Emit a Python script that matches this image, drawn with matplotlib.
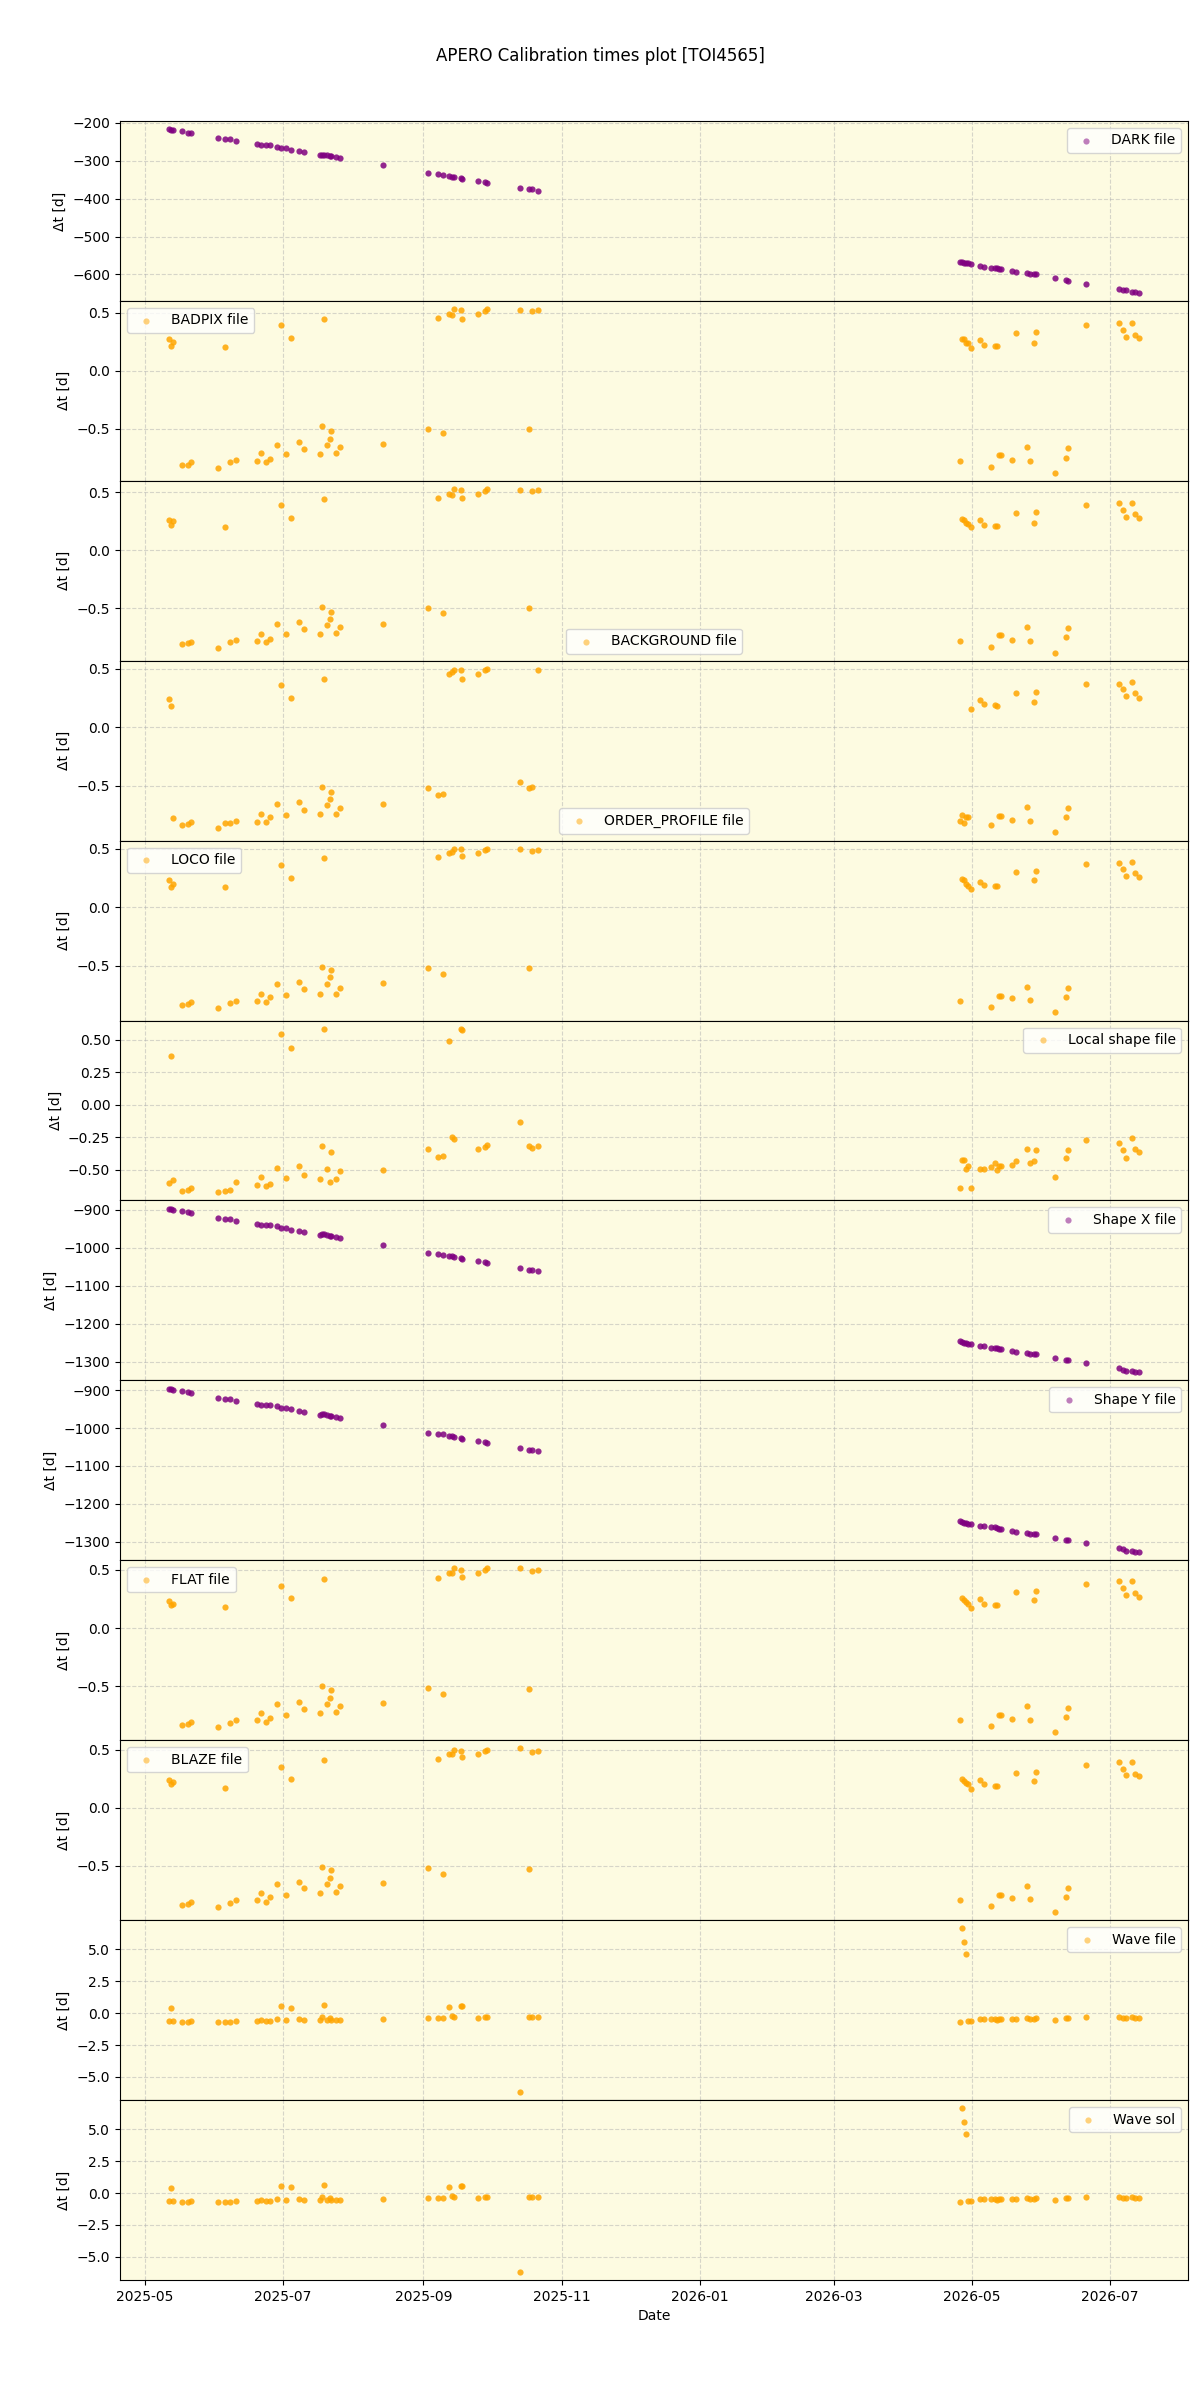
import matplotlib
matplotlib.use("Agg")
import matplotlib.pyplot as plt
import matplotlib.dates as mdates
import pandas as pd

# ---------------- data ----------------
dates_str = [
    '2025-05-11 12:00', '2025-05-12 12:00', '2025-05-13 10:00', '2025-05-17 10:00', '2025-05-20 07:00', '2025-05-21 07:00',
    '2025-06-02 07:00', '2025-06-05 10:00', '2025-06-07 10:00', '2025-06-10 07:00',
    '2025-06-19 10:00', '2025-06-21 07:00', '2025-06-23 07:00', '2025-06-25 05:00',
    '2025-06-28 10:00', '2025-06-30 07:00', '2025-07-02 07:00', '2025-07-04 17:00',
    '2025-07-08 05:00', '2025-07-10 10:00',
    '2025-07-17 12:00', '2025-07-18 10:00', '2025-07-19 05:00', '2025-07-20 14:00', '2025-07-21 14:00',
    '2025-07-22 07:00', '2025-07-24 12:00', '2025-07-26 05:00',
    '2025-08-14 07:00',
    '2025-09-03 02:00', '2025-09-07 05:00', '2025-09-09 10:00', '2025-09-12 10:00', '2025-09-13 10:00',
    '2025-09-14 12:00', '2025-09-17 12:00', '2025-09-18 05:00',
    '2025-09-25 02:00', '2025-09-28 00:00', '2025-09-29 00:00',
    '2025-10-13 10:00', '2025-10-17 12:00', '2025-10-19 00:00', '2025-10-21 10:00',
    '2026-04-25 14:00', '2026-04-26 14:00', '2026-04-27 10:00', '2026-04-28 12:00', '2026-04-29 12:00', '2026-04-30 12:00',
    '2026-05-04 10:00', '2026-05-06 05:00', '2026-05-09 12:00', '2026-05-11 07:00', '2026-05-12 07:00',
    '2026-05-13 00:00', '2026-05-13 17:00',
    '2026-05-18 19:00', '2026-05-20 12:00', '2026-05-25 10:00', '2026-05-26 17:00', '2026-05-28 07:00', '2026-05-29 10:00',
    '2026-06-06 22:00', '2026-06-11 12:00', '2026-06-12 07:00', '2026-06-20 14:00',
    '2026-07-05 00:00', '2026-07-06 17:00', '2026-07-08 02:00', '2026-07-10 19:00', '2026-07-12 02:00', '2026-07-14 00:00',
]

dark = [-217, -218, -219, -221, -226, -226, -240, -243, -242, -248, -255, -258, -260, -260,
        -263, -266, -268, -271, -274, -277, -284, -284, -285, -286, -288, -289, -290, -293,
        -311, -332, -334, -338, -340, -342, -343, -346, -348, -353, -355, -358, -372, -376, -376, -379,
        -567, -568, -569, -570, -571, -572, -577, -579, -583, -583, -584, -585, -586,
        -590, -593, -597, -598, -599, -600, -609, -615, -617, -625, -637, -640, -642, -645, -646, -648]

badpix = [0.27, 0.21, 0.25, -0.81, -0.81, -0.79, -0.84, 0.20, -0.79, -0.77, -0.78, -0.71, -0.79, -0.76,
          -0.64, 0.39, -0.72, 0.28, -0.62, -0.68, -0.72, -0.48, 0.44, -0.64, -0.59, -0.52, -0.71, -0.66,
          -0.63, -0.50, 0.45, -0.54, 0.49, 0.48, 0.53, 0.52, 0.44, 0.49, 0.51, 0.53, 0.52, -0.50, 0.51, 0.52,
          -0.78, 0.27, 0.27, 0.24, 0.24, 0.19, 0.26, 0.22, -0.83, 0.21, 0.21, -0.73, -0.73,
          -0.77, 0.32, -0.66, -0.78, 0.24, 0.33, -0.88, -0.75, -0.67, 0.39, 0.41, 0.35, 0.29, 0.41, 0.31, 0.28]

background = [0.26, 0.22, 0.25, -0.81, -0.80, -0.79, -0.84, 0.20, -0.79, -0.77, -0.78, -0.72, -0.79, -0.76,
              -0.63, 0.39, -0.72, 0.28, -0.62, -0.68, -0.72, -0.49, 0.44, -0.64, -0.59, -0.53, -0.71, -0.66,
              -0.63, -0.50, 0.45, -0.54, 0.49, 0.48, 0.53, 0.52, 0.45, 0.49, 0.51, 0.53, 0.52, -0.50, 0.51, 0.52,
              -0.78, 0.27, 0.26, 0.24, 0.23, 0.20, 0.26, 0.22, -0.83, 0.21, 0.21, -0.73, -0.73,
              -0.77, 0.32, -0.66, -0.78, 0.24, 0.33, -0.88, -0.75, -0.67, 0.39, 0.41, 0.35, 0.29, 0.41, 0.31, 0.28]

order_profile = [0.24, 0.18, -0.78, -0.84, -0.83, -0.81, -0.865, -0.82, -0.82, -0.80, -0.81, -0.74, -0.81, -0.77,
                 -0.66, 0.36, -0.75, 0.25, -0.64, -0.71, -0.74, -0.51, 0.41, -0.665, -0.61, -0.55, -0.74, -0.69,
                 -0.66, -0.52, -0.58, -0.57, 0.455, 0.47, 0.49, 0.49, 0.415, 0.46, 0.49, 0.50, -0.47, -0.52, -0.515, 0.49,
                 -0.80, -0.75, -0.82, -0.77, -0.77, 0.16, 0.23, 0.20, -0.84, 0.19, 0.18, -0.76, -0.76,
                 -0.79, 0.29, -0.68, -0.80, 0.22, 0.30, -0.90, -0.77, -0.69, 0.37, 0.375, 0.325, 0.265, 0.385, 0.29, 0.25]

loco = [0.23, 0.17, 0.20, -0.84, -0.83, -0.81, -0.86, 0.17, -0.82, -0.80, -0.80, -0.74, -0.81, -0.77,
        -0.66, 0.36, -0.75, 0.25, -0.64, -0.70, -0.74, -0.51, 0.42, -0.66, -0.60, -0.54, -0.74, -0.69,
        -0.65, -0.52, 0.43, -0.57, 0.46, 0.47, 0.50, 0.50, 0.44, 0.46, 0.49, 0.50, 0.50, -0.52, 0.48, 0.49,
        -0.80, 0.24, 0.23, 0.20, 0.18, 0.16, 0.22, 0.19, -0.85, 0.18, 0.18, -0.76, -0.76,
        -0.78, 0.30, -0.68, -0.79, 0.23, 0.31, -0.90, -0.77, -0.69, 0.37, 0.38, 0.33, 0.27, 0.39, 0.29, 0.26]

local_shape = [-0.604, 0.37, -0.583, -0.661, -0.659, -0.638, -0.674, -0.664, -0.659, -0.596, -0.617, -0.555, -0.622, -0.607,
               -0.49, 0.539, -0.565, 0.435, -0.469, -0.539, -0.568, -0.32, 0.583, -0.492, -0.594, -0.367, -0.57, -0.51,
               -0.5, -0.344, -0.406, -0.393, 0.487, -0.247, -0.268, 0.578, 0.57, -0.339, -0.323, -0.313, -0.135, -0.32, -0.336, -0.32,
               -0.643, -0.427, -0.427, -0.495, -0.474, -0.643, -0.495, -0.495, -0.482, -0.448, -0.505, -0.471, -0.471,
               -0.461, -0.432, -0.339, -0.448, -0.432, -0.346, -0.557, -0.411, -0.352, -0.273, -0.297, -0.352, -0.414, -0.26, -0.341, -0.362]

shape_x = [-897, -899, -900, -903, -907, -908, -921, -924, -924, -929, -937, -939, -941, -941,
           -944, -947, -949, -952, -955, -958, -966, -965, -965, -967, -968, -969, -971, -974,
           -992, -1013, -1016, -1018, -1021, -1023, -1024, -1026, -1029, -1034, -1037, -1040, -1053, -1058, -1058, -1061,
           -1247, -1249, -1250, -1252, -1253, -1253, -1258, -1260, -1263, -1263, -1265, -1266, -1267,
           -1271, -1274, -1278, -1279, -1280, -1281, -1290, -1295, -1297, -1305, -1318, -1321, -1324, -1326, -1327, -1328]

shape_y = [-896, -898, -899, -902, -906, -907, -920, -923, -923, -928, -936, -938, -940, -940,
           -943, -946, -948, -951, -954, -957, -965, -964, -964, -966, -967, -968, -970, -973,
           -991, -1012, -1015, -1017, -1020, -1022, -1023, -1025, -1028, -1033, -1036, -1039, -1052, -1057, -1057, -1060,
           -1246, -1248, -1249, -1251, -1252, -1252, -1257, -1259, -1262, -1262, -1264, -1265, -1266,
           -1270, -1273, -1277, -1278, -1279, -1280, -1289, -1294, -1296, -1304, -1317, -1320, -1323, -1325, -1326, -1327]

flat = [0.23, 0.20, 0.21, -0.83, -0.82, -0.80, -0.85, 0.18, -0.81, -0.79, -0.79, -0.73, -0.80, -0.77,
        -0.65, 0.36, -0.74, 0.26, -0.63, -0.69, -0.73, -0.50, 0.42, -0.65, -0.60, -0.53, -0.72, -0.67,
        -0.64, -0.51, 0.43, -0.56, 0.47, 0.47, 0.51, 0.50, 0.44, 0.47, 0.50, 0.51, 0.51, -0.52, 0.49, 0.50,
        -0.79, 0.26, 0.24, 0.22, 0.21, 0.17, 0.25, 0.21, -0.84, 0.20, 0.20, -0.74, -0.74,
        -0.78, 0.31, -0.67, -0.79, 0.24, 0.32, -0.89, -0.76, -0.68, 0.38, 0.40, 0.34, 0.28, 0.40, 0.30, 0.27]

blaze = [0.24, 0.20, 0.22, -0.84, -0.83, -0.81, -0.86, 0.17, -0.82, -0.80, -0.80, -0.74, -0.81, -0.77,
         -0.66, 0.35, -0.75, 0.25, -0.64, -0.69, -0.74, -0.51, 0.41, -0.66, -0.61, -0.54, -0.73, -0.68,
         -0.65, -0.52, 0.42, -0.57, 0.46, 0.46, 0.50, 0.49, 0.44, 0.46, 0.49, 0.50, 0.51, -0.53, 0.48, 0.49,
         -0.80, 0.25, 0.23, 0.21, 0.20, 0.16, 0.24, 0.20, -0.85, 0.19, 0.19, -0.75, -0.75,
         -0.78, 0.30, -0.68, -0.79, 0.23, 0.31, -0.90, -0.77, -0.69, 0.37, 0.39, 0.33, 0.28, 0.39, 0.29, 0.27]

wave_file = [-0.625, 0.39, -0.625, -0.7, -0.7, -0.6, -0.7, -0.7, -0.7, -0.6, -0.6, -0.52, -0.6, -0.6,
             -0.44, 0.55, -0.57, 0.44, -0.44, -0.52, -0.57, -0.31, 0.6, -0.55, -0.36, -0.52, -0.52, -0.52,
             -0.49, -0.36, -0.36, -0.36, 0.47, -0.21, -0.31, 0.55, 0.55, -0.36, -0.31, -0.31, -6.17, -0.31, -0.34, -0.31,
             -0.68, 6.64, 5.55, 4.61, -0.65, -0.63, -0.49, -0.49, -0.44, -0.49, -0.55, -0.49, -0.49,
             -0.47, -0.47, -0.36, -0.44, -0.44, -0.39, -0.55, -0.42, -0.39, -0.31, -0.31, -0.39, -0.42, -0.29, -0.36, -0.39]

wave_sol = list(wave_file)

labels = ['DARK file', 'BADPIX file', 'BACKGROUND file', 'ORDER_PROFILE file', 'LOCO file',
          'Local shape file', 'Shape X file', 'Shape Y file', 'FLAT file', 'BLAZE file',
          'Wave file', 'Wave sol']
series = [dark, badpix, background, order_profile, loco, local_shape, shape_x, shape_y,
          flat, blaze, wave_file, wave_sol]
colors = ['purple', 'orange', 'orange', 'orange', 'orange', 'orange', 'purple', 'purple',
          'orange', 'orange', 'orange', 'orange']
legend_locs = ['upper right', 'upper left', 'lower center', 'lower center', 'upper left',
               'upper right', 'upper right', 'upper right', 'upper left', 'upper left',
               'upper right', 'upper right']

dates = pd.to_datetime(dates_str)

# ---------------- plot ----------------
fig, axes = plt.subplots(len(series), 1, sharex=True, figsize=(12, 24), dpi=100)
fig.subplots_adjust(left=0.1, right=0.99, top=0.9496, bottom=0.05, hspace=0)
fig.suptitle('APERO Calibration times plot [TOI4565]', y=0.9805, fontsize=12)

for ax, vals, lab, col, loc in zip(axes, series, labels, colors, legend_locs):
    ax.set_facecolor('#fdfbe1')
    ax.scatter(dates, vals, s=20, color=col, alpha=0.85, label=lab, zorder=3, linewidths=0)
    ax.grid(True, linestyle='--', color='#b0b0b0', alpha=0.5)
    ax.set_axisbelow(True)
    ax.set_ylabel('Δt [d]')
    leg = ax.legend(loc=loc)
    for h in leg.legend_handles:
        h.set_alpha(0.5)

axes[-1].xaxis.set_major_locator(mdates.MonthLocator(bymonth=[1, 3, 5, 7, 9, 11]))
axes[-1].xaxis.set_major_formatter(mdates.DateFormatter('%Y-%m'))
axes[-1].set_xlabel('Date')

fig.savefig('out.png', dpi=100)
